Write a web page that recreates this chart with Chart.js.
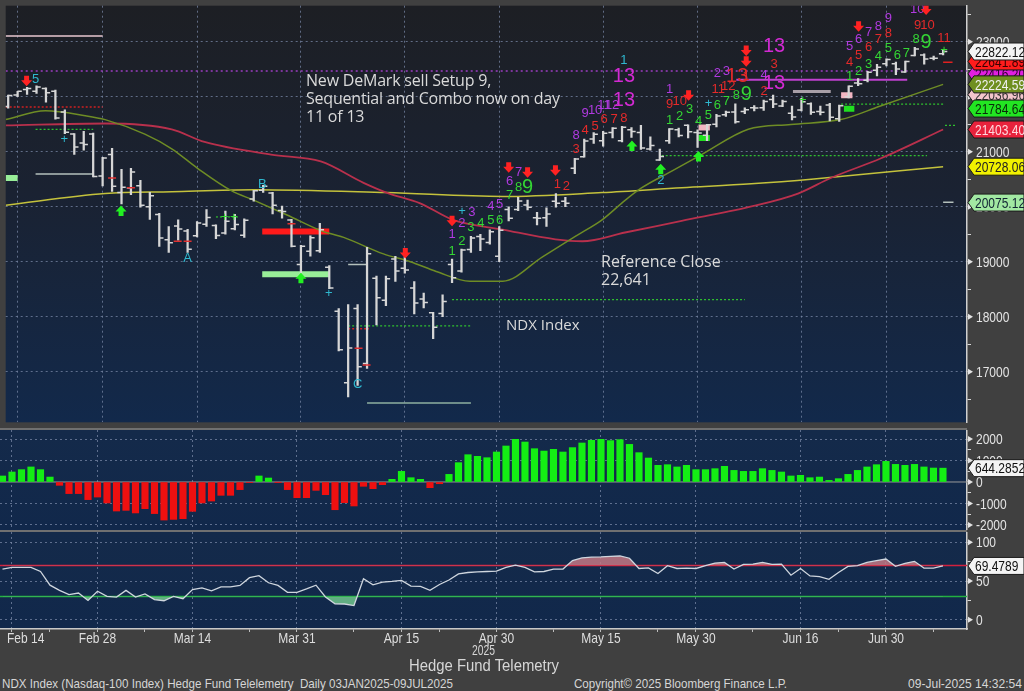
<!DOCTYPE html>
<html><head><meta charset="utf-8">
<script src="https://cdn.jsdelivr.net/npm/chart.js@4.4.1/dist/chart.umd.min.js"></script>
<style>
html,body{margin:0;padding:0;background:#404040;width:1024px;height:691px;overflow:hidden;}
canvas{position:absolute;left:0;}
.sep{position:absolute;left:0;width:967px;height:2px;background:#707070;}
.t{position:absolute;color:#dadada;white-space:nowrap;font-family:'Open Sans','Noto Sans',sans-serif;}
.n{position:absolute;color:#d6d6d6;white-space:nowrap;font-family:'Liberation Sans',sans-serif;transform-origin:0 0;}
</style></head><body>
<canvas id="main" width="1024" height="428" style="top:0"></canvas>
<div class="sep" style="top:428px"></div>
<canvas id="hist" width="1024" height="100" style="top:430px"></canvas>
<div class="sep" style="top:530px"></div>
<canvas id="rsi" width="1024" height="117" style="top:532px"></canvas>

<div class="t" style="left:306px;top:71px;font-size:16px;line-height:18px;letter-spacing:-0.2px">New DeMark sell Setup 9,<br>Sequential and Combo now on day<br>11 of 13</div>
<div class="t" style="left:601px;top:252px;font-size:16px;line-height:18px">Reference Close<br>22,641</div>
<div class="t" style="left:506px;top:315px;font-size:15px;line-height:18px">NDX Index</div>
<div class="n" data-w="23" style="left:472px;top:642px;font-size:14px;line-height:16px">2025</div>
<div class="n" data-w="150" style="left:409px;top:656px;font-size:17px;line-height:20px">Hedge Fund Telemetry</div>
<div class="n" data-w="451" style="left:2px;top:676px;font-size:13.5px;line-height:15px">NDX Index (Nasdaq-100 Index) Hedge Fund Telelemetry&nbsp; Daily 03JAN2025-09JUL2025</div>
<div class="n" data-w="213" style="left:574px;top:676px;font-size:13.5px;line-height:15px">Copyright© 2025 Bloomberg Finance L.P.</div>
<div class="n" data-w="114" style="left:908px;top:676px;font-size:13.5px;line-height:15px">09-Jul-2025 14:32:54</div>

<script>
// ---------------- DATA ----------------
const dates = ['Feb 13','Feb 14','Feb 18','Feb 19','Feb 20','Feb 21','Feb 24','Feb 25','Feb 26','Feb 27','Feb 28',
'Mar 3','Mar 4','Mar 5','Mar 6','Mar 7','Mar 10','Mar 11','Mar 12','Mar 13','Mar 14','Mar 17','Mar 18','Mar 19','Mar 20','Mar 21','Mar 24','Mar 25','Mar 26','Mar 27','Mar 28','Mar 31',
'Apr 1','Apr 2','Apr 3','Apr 4','Apr 7','Apr 8','Apr 9','Apr 10','Apr 11','Apr 14','Apr 15','Apr 16','Apr 17','Apr 21','Apr 22','Apr 23','Apr 24','Apr 25','Apr 28','Apr 29','Apr 30',
'May 1','May 2','May 5','May 6','May 7','May 8','May 9','May 12','May 13','May 14','May 15','May 16','May 19','May 20','May 21','May 22','May 23','May 27','May 28','May 29','May 30',
'Jun 2','Jun 3','Jun 4','Jun 5','Jun 6','Jun 9','Jun 10','Jun 11','Jun 12','Jun 13','Jun 16','Jun 17','Jun 18','Jun 20','Jun 23','Jun 24','Jun 25','Jun 26','Jun 27','Jun 30',
'Jul 1','Jul 2','Jul 3','Jul 7','Jul 8','Jul 9'];

const openP = [21820,22030,22130,22100,22150,22100,21720,21320,21160,21320,
20560,20950,20260,20340,20380,20000,19860,19400,19650,19560,
19470,19680,19660,19520,19600,19480,20140,20300,20250,19930,
19760,18950,19190,19200,18900,18100,16800,18150,17150,18700,
18300,19050,18880,18520,18320,18070,18060,18950,18830,19220,
19460,19350,19100,19950,19950,20030,19800,19800,20100,20100,
20700,20910,21230,21200,21350,21200,21400,21350,21050,20850,
21200,21400,21480,21350,21300,21500,21670,21720,21730,21800,
21800,21950,21830,21700,21760,21870,21730,21850,21600,22000,
22250,22300,22480,22600,22600,22450,22750,22760,22700,22780];
const highP = [22030,22100,22170,22200,22160,22120,21760,21330,21370,21340,
20900,21060,20680,20700,20480,20260,19880,19640,19760,19590,
19730,19950,19670,19920,19860,19780,20300,20390,20260,20010,
19770,19300,19470,19700,18930,18150,18220,18220,19260,18740,
18740,19100,19090,18640,18430,18080,18400,19050,19230,19460,
19500,19580,19640,20000,20170,20120,19900,19980,20240,20170,
20880,21230,21350,21370,21440,21460,21440,21480,21270,21050,
21420,21430,21490,21400,21500,21680,21740,21870,21800,21840,
21940,22030,21940,21830,21970,21890,21830,21880,21850,22200,
22330,22460,22590,22690,22630,22650,22900,22780,22740,22860];
const lowP = [21790,22000,22040,22060,21900,21590,21330,20950,21030,20540,
20380,20280,20050,20220,19990,19770,19280,19170,19390,19170,
19450,19640,19420,19500,19580,19440,20100,20260,19870,19790,
19270,18800,19100,19170,18510,17380,16540,16750,17060,17850,
18200,18640,18790,18050,18160,17600,18000,18620,18810,19170,
19200,19320,19000,19740,19930,19940,19670,19640,19990,20000,
20600,20900,21150,21100,21250,21180,21260,21040,21030,20840,
21150,21270,21250,21080,21200,21450,21640,21520,21690,21740,
21750,21800,21820,21580,21740,21680,21670,21560,21550,21980,
22200,22270,22380,22560,22400,22440,22740,22590,22670,22760];
const closeP = [22020,22100,22150,22176,22070,21614,21352,21088,21132,20551,
20884,20371,20354,20629,20026,20201,19431,19345,19594,19225,
19704,19804,19477,19736,19678,19754,20288,20370,20025,19915,
19281,19279,19436,19581,18522,17398,17431,17090,19145,18343,
18690,18831,18848,18251,18258,17808,18277,18710,19213,19432,
19412,19546,19571,19791,20103,19989,19792,19867,20064,20061,
20868,21196,21319,21335,21427,21447,21367,21067,21112,20915,
21413,21296,21364,21340,21492,21651,21719,21547,21762,21797,
21914,21868,21914,21631,21907,21719,21719,21626,21837,22191,
22238,22447,22534,22679,22504,22642,22867,22686,22700,22822.12];

// moving averages: [bar index, value]
const maShortPts = [[-1.26,21584],[2.95,21743],[7.16,21655],[9.26,21584],[13.47,21319],[16.32,21053],[19.05,20699],[22.63,20292],[25.05,20115],[28.53,19850],[32.1,19566],[34.53,19442],[38.74,19142],[41.58,19000],[44.32,18823],[47.89,18646],[51.37,18646],[55.58,19088],[59.05,19460],[61.89,19761],[64.32,20115],[66.1,20345],[69.26,20646],[72.42,20947],[77.37,21407],[81.89,21496],[87.16,21584],[91.37,21832],[98,22224.59]];
const maMidPts = [[-1.26,21478],[9.26,21513],[16.32,21407],[19.79,21177],[26.84,20947],[32.1,20823],[36.63,20434],[39.05,20257],[42.63,20062],[46.1,19761],[51.37,19584],[56.95,19407],[59.79,19372],[64.32,19531],[70.32,19743],[77.37,19991],[82.63,20239],[86.1,20522],[91.37,20876],[98,21403.40]];
const maLongPts = [[-1.26,20027],[9.26,20239],[16.32,20274],[25.05,20310],[39.05,20257],[51.37,20186],[61.89,20257],[70.32,20345],[77.68,20416],[84.32,20504],[98,20728.06]];

// oscillator histogram and RSI, one value per bar
const histVals = [280,465,575,700,575,230,-155,-540,-540,-820,
-700,-975,-1350,-1320,-1440,-1240,-1470,-1770,-1740,-1705,
-1365,-975,-885,-620,-620,-355,-30,280,185,-10,
-355,-730,-730,-390,-590,-1290,-960,-1115,-200,-310,
-125,125,495,200,125,-265,-80,355,900,1270,
1195,1130,1395,1675,1985,1860,1550,1440,1520,1395,
1600,1815,1940,1985,1925,1970,1750,1365,1115,775,
805,700,775,575,575,620,730,540,495,495,
620,540,465,280,310,200,230,75,155,355,
540,700,805,960,820,775,820,700,650,644.2852];
const rsiVals = [65.4,67.5,67.7,67.5,62.3,44.7,38,32.5,34.6,25,
36.8,30.3,29.4,38,29.4,33.3,26,24.6,30.3,27.2,
39,41.2,37.3,42.5,42.5,44.3,54.4,57,47.8,44.3,
35.5,35.5,39.9,44.7,29.4,20.6,20.4,18.4,53,45.2,
48.7,49.6,50.9,43.4,43.2,38,45.6,51.3,59.2,61,
61.8,62.3,62.7,67.5,70.6,67.5,61.8,62.3,65.4,65.4,
76.3,79.8,80.7,81.1,81.9,82.3,79.4,66.2,66.9,59.7,
69.8,66.2,66.7,66.2,69.8,73.2,74,65.4,71.5,71.9,
74,71.5,71.9,57.5,66.2,56.6,55.7,52.2,61,68.9,
69.8,74,76.3,78.4,68.9,72.8,75.4,66.7,66.7,69.4789];

// level lines: [from bar, to bar, value]
const levelLines = [[-1.263,9,23106],[-1.263,9,21814],[1.9,8,21407],[1.9,8,20593],[-1.263,0,20522],
[25.9,33,19549],[25.9,33.05,18770],[35,37,18947],[35,37.2,17779],[35,48,17832],[37,48,16433],
[46,77,18310],[-1.263,100.53,22469],[68.2,96.3,20929],[76.1,94.2,22310],[82.1,86.1,22097],
[87.2,98,21867],[98.2,99.3,21478],[98,99.1,20080],[98,99,22628],[87.2,88.4,22027],[87.5,88.6,21780],
[72.1,73.3,21442],[72.1,73.3,21248],[21,23.5,19814]];
const levelKinds = ['pink','redDot','greenDot','gray','lgThick','redThick','lgThick','gray','redDot','greenDot','grayGreen',
'greenDot','purpleDot','greenDot','purple','grayThick','greenDot','greenDot','gray','red','pinkBlock','greenBlock',
'pinkBlock','greenBlock','greenDot'];

// DeMark counts: [bar, value, text, kind]
const countMarks = [
[1.9,22310,'5','c'],[4.95,21230,'+','c'],[18,19053,'A','c'],[25.9,20398,'B','c'],[32.95,18416,'+','c'],[36,16770,'C','c'],
[47.05,19920,'+','c'],[48.1,19903,'3','p'],[47.05,19690,'2','p'],[46,19495,'1','p'],
[46,19195,'1','g'],[47.05,19372,'2','g'],[48,19619,'3','g'],[49.05,19690,'4','g'],[50.1,19743,'5','g'],[51.05,19743,'6','g'],
[50.1,20009,'4','p'],[51.05,20044,'5','p'],[52.1,20451,'6','p'],[53.05,20628,'7','p'],
[52.1,20204,'7','g'],[53.05,20345,'8','g'],[54,20345,'9','G'],
[57.15,20398,'1','r'],[58.1,20363,'2','r'],[59.15,21035,'3','r'],[59.15,21301,'8','p'],
[60.1,21389,'4','r'],[61.15,21460,'5','r'],[60.1,21690,'9','p'],[61.15,21743,'10','p'],[62.1,21850,'11','p'],[62.95,21850,'12','p'],
[62.1,21584,'6','r'],[63.15,21584,'7','r'],[64.2,21602,'8','r'],
[64.2,22664,'1','c'],[64.2,22363,'13','M'],[64.2,21938,'13','M'],
[68.1,20469,'2','c'],[69.05,22133,'1','p'],[69.05,21867,'9','r'],[70.1,21920,'10','r'],
[69.05,21566,'1','g'],[70.1,21637,'2','g'],[71.15,21761,'3','g'],[72.1,21549,'4','g'],
[73.15,21655,'5','g'],[73.15,21885,'+','c'],[74.1,21850,'6','g'],[75.05,21920,'7','g'],[76.1,22027,'8','g'],[77.15,22044,'9','G'],
[74.1,22416,'2','p'],[75.05,22469,'3','p'],[74.2,22133,'11','r'],[75.25,22186,'12','r'],[76.2,22363,'13','R'],[77.15,22363,'1','r'],
[80.1,22912,'13','M'],[80.1,22593,'3','r'],[79.05,22381,'4','p'],[80.1,22239,'13','M'],[79.05,22097,'2','r'],
[83.15,21938,'+','g'],
[88.1,22912,'5','p'],[89.05,23036,'6','p'],[90.1,23177,'7','p'],[91.15,23283,'8','p'],[92.2,23425,'9','p'],[95.25,23584,'10','p'],
[88.1,22628,'4','r'],[89.05,22752,'5','r'],[90.1,22894,'6','r'],[91.15,23036,'7','r'],[92.2,23142,'8','r'],[95.3,23301,'9','r'],[96.35,23301,'10','r'],[98.1,23053,'11','r'],
[88.1,22363,'1','g'],[89.05,22451,'2','g'],[90.1,22593,'3','g'],[91.15,22735,'4','g'],[92.2,22876,'5','g'],[93.15,22752,'6','g'],[94.1,22788,'7','g'],[95.15,23036,'8','g'],[96.2,22982,'9','G'],
[98.1,22841,'+','g'],[21.9,19814,'+','g'],[22.9,19814,'+','g']];
// arrows: [bar, value, direction]
const arrowMarks = [[0.95,22292,'down'],[10.95,19920,'up'],[30,18699,'up'],[41.05,19159,'down'],[46,19743,'down'],
[52,20717,'down'],[54,20628,'down'],[56.95,20664,'down'],[65.05,21106,'up'],[68.1,20681,'up'],[71.05,22027,'down'],
[72.1,20911,'up'],[77.15,22841,'down'],[77.15,22646,'down'],[89.05,23283,'down'],[96.2,23584,'down']];
// small red dashes: [bar, value]
const redTicks = [[16.95,19372],[18,19372],[10,20522],[12,20345],[29,19690],[36.1,17425],[36.95,17124]];

// axis tags: [value, text, kind]
const mainTags = [[22416,'22416.20','mag'],[22036.96,'22036.96','pink'],[22641.89,'22641.89','red'],[21403.40,'21403.40','crim'],
[20728.06,'20728.06','yel'],[20075.12,'20075.12','lgreen'],[22224.59,'22224.59','olive'],[21784.64,'21784.64','green'],[22822.12,'22822.12','white']];
const histTag = [644.2852,'644.2852'];
const rsiTag = [69.4789,'69.4789'];

const majorTicks = [0,9,19,30,41,51,62,72,83,92];
const minorTicks = [4,14,25,36,45,57,68,78,87,97];
const mainYTicks = [16500,17000,17500,18000,18500,19000,19500,20000,20500,21000,21500,22000,22500,23000,23500];
const mainYLabels = [17000,18000,19000,20000,21000,22000,23000];
const histYTicks = [-2000,-1500,-1000,-500,0,500,1000,1500,2000];
const histYLabels = [-2000,-1000,0,1000,2000];
const rsiYTicks = [0,25,50,75,100];
const rsiYLabels = [0,50,100];

// ---------------- STYLE ----------------
const SANS = "'Liberation Sans',sans-serif";
const SQUEEZE = 0.8;
const GRID = 'rgba(120,135,165,0.75)';
const XMIN = -1.263, XMAX = 100.53;
const idx = dates.map((d,k)=>k-1);

const levelStyle = {
 pink:{c:'#e8c8d0',w:1.5,d:[]}, redDot:{c:'#d02020',w:1.5,d:[2,2]}, greenDot:{c:'#2fc02f',w:1.2,d:[2,2]},
 gray:{c:'#b4c0bc',w:1.5,d:[]}, lgThick:{c:'#98ee98',w:6,d:[]}, redThick:{c:'#ff1a1a',w:6,d:[]},
 grayGreen:{c:'#8fb0a0',w:1.5,d:[]}, purpleDot:{c:'#9a3cc0',w:1.5,d:[2,3]}, purple:{c:'#c040d0',w:2,d:[]},
 grayThick:{c:'#a8a0a8',w:3,d:[]}, red:{c:'#e02020',w:1.5,d:[]}, pinkBlock:{c:'#f2b6c2',w:6,d:[]}, greenBlock:{c:'#20e020',w:6,d:[]}
};
const markStyle = {p:{c:'#b03ae0',s:13}, r:{c:'#e42a2a',s:13}, g:{c:'#34d634',s:13}, c:{c:'#2fb8cf',s:13},
 M:{c:'#d22ad2',s:20}, R:{c:'#e42a2a',s:20}, G:{c:'#34d634',s:20}};
const tagStyle = {mag:['#e020e0','#300030'], pink:['#f4c6cc','#333'], red:['#ff1c1c','#3a0000'], crim:['#e8223c','#ffd8de'],
 yel:['#f2f200','#222'], lgreen:['#a2e8a2','#123'], olive:['#6f8f1f','#f0f0f0'], green:['#22e622','#0a2a0a'], white:['#f4f4f4','#111']};

function squeezedText(ctx, text, x, y, align){
  ctx.save(); ctx.translate(x, y); ctx.scale(SQUEEZE, 1); ctx.textAlign = align; ctx.fillText(text, 0, 0); ctx.restore();
}
function drawTag(ctx, yc, bg, fg, text){
  const x0 = 967, w = 57, h = 8.5;
  ctx.beginPath(); ctx.moveTo(x0+1,yc); ctx.lineTo(x0+7,yc-h); ctx.lineTo(x0+w,yc-h); ctx.lineTo(x0+w,yc+h); ctx.lineTo(x0+7,yc+h); ctx.closePath();
  ctx.fillStyle = bg; ctx.fill(); ctx.strokeStyle = '#1a1a1a'; ctx.lineWidth = 1; ctx.stroke();
  ctx.fillStyle = fg; ctx.font = '15px ' + SANS; ctx.textBaseline = 'middle';
  squeezedText(ctx, text, x0+8, yc+1, 'left');
}
function bgPlugin(stops){
  return {id:'bg', beforeDraw(chart){
    const {ctx, chartArea:a} = chart; const g = ctx.createLinearGradient(0,a.top,0,a.bottom);
    stops.forEach(s=>g.addColorStop(s[0],s[1]));
    ctx.save(); ctx.fillStyle = g; ctx.fillRect(a.left,a.top,a.right-a.left,a.bottom-a.top); ctx.restore();
  }};
}
function axisLabelPlugin(yLabels, withX){
  return {id:'axlab', afterDraw(chart){
    const {ctx, scales:{x,y}, chartArea:a} = chart;
    ctx.save(); ctx.fillStyle = '#e4e4e4'; ctx.font = '15px ' + SANS; ctx.textBaseline = 'middle';
    yLabels.forEach(v=>{
      const py = y.getPixelForValue(v);
      ctx.beginPath(); ctx.moveTo(a.right+1, py-3); ctx.lineTo(a.right+6, py); ctx.lineTo(a.right+1, py+3); ctx.closePath(); ctx.fill();
      squeezedText(ctx, String(v), a.right+9, py+1, 'left');
    });
    if (withX) {
      ctx.fillStyle = '#dedede'; ctx.textBaseline = 'top';
      majorTicks.forEach(i=>{
        const txt = dates[i+1]; const w = ctx.measureText(txt).width * SQUEEZE;
        const cx = Math.max(x.getPixelForValue(i), 7 + w/2);
        squeezedText(ctx, txt, cx, a.bottom + 2, 'center');
      });
    }
    ctx.restore();
  }};
}
function xScale(showTicks){
  return {type:'linear', min:XMIN, max:XMAX, offset:false,
    afterBuildTicks: s => { s.ticks = (showTicks ? majorTicks.concat(minorTicks).sort((a,b)=>a-b) : majorTicks).map(v=>({value:v})); },
    afterFit: s => { s.height = showTicks ? 20 : 0; s.paddingLeft = 0; s.paddingRight = 0; },
    ticks:{display:false},
    grid:{offset:false, drawTicks:showTicks, tickLength:3, tickColor:'#bdbdbd', lineWidth:1,
      color: c => (c.tick && majorTicks.includes(c.tick.value)) ? GRID : 'rgba(0,0,0,0)'},
    border:{display:showTicks, color:'#c8c8c8', width:1.5, dash:[2,3]}};
}
function yScale(min, max, tickVals, isGrid){
  return {type:'linear', position:'right', min, max,
    afterBuildTicks: s => { s.ticks = tickVals.map(v=>({value:v})); },
    afterFit: s => { s.width = 57; s.paddingTop = 0; s.paddingBottom = 0; },
    ticks:{display:false},
    grid:{drawTicks:true, tickLength:4, tickColor:'#d8d8d8', lineWidth:1,
      color: c => (c.tick && isGrid(c.tick.value)) ? GRID : 'rgba(0,0,0,0)'},
    border:{color:'#d0d0d0', width:1.5, dash:[2,3]}};
}
const common = {responsive:false, animation:false, events:[], layout:{padding:0},
  plugins:{legend:{display:false}, tooltip:{enabled:false}}};

// ---------------- MAIN PRICE CHART ----------------
const priceDatasets = [
  {type:'bar', data: idx.map((i,k)=>({x:i, y:[lowP[k], highP[k]]})), backgroundColor:'#d6d6d6', borderWidth:0, barThickness:1.6, grouped:false},
  {type:'scatter', data: idx.map((i,k)=>({x:i, y:openP[k]})), pointStyle:'dash', pointRotation:180, pointRadius:4.2, pointBorderWidth:1.5, pointBorderColor:'#d6d6d6', pointBackgroundColor:'#d6d6d6'},
  {type:'scatter', data: idx.map((i,k)=>({x:i, y:closeP[k]})), pointStyle:'dash', pointRotation:0, pointRadius:4.2, pointBorderWidth:1.5, pointBorderColor:'#d6d6d6', pointBackgroundColor:'#d6d6d6'},
  {type:'line', data: maShortPts.map(p=>({x:p[0], y:p[1]})), borderColor:'#6e8c25', borderWidth:1.5, pointRadius:0, cubicInterpolationMode:'monotone'},
  {type:'line', data: maMidPts.map(p=>({x:p[0], y:p[1]})), borderColor:'#b8304c', borderWidth:1.8, pointRadius:0, cubicInterpolationMode:'monotone'},
  {type:'line', data: maLongPts.map(p=>({x:p[0], y:p[1]})), borderColor:'#c4c23c', borderWidth:1.5, pointRadius:0, cubicInterpolationMode:'monotone'}
];
levelLines.forEach((l,k)=>{
  const st = levelStyle[levelKinds[k]];
  priceDatasets.push({type:'line', data:[{x:l[0],y:l[2]},{x:l[1],y:l[2]}], borderColor:st.c, borderWidth:st.w, borderDash:st.d, pointRadius:0, borderCapStyle:'butt'});
});

const marksPlugin = {id:'marks', afterDatasetsDraw(chart){
  const {ctx, scales:{x,y}, chartArea:a} = chart;
  ctx.save(); ctx.beginPath(); ctx.rect(a.left,a.top,a.right-a.left,a.bottom-a.top); ctx.clip();
  redTicks.forEach(([i,v])=>{ const px=x.getPixelForValue(i), py=y.getPixelForValue(v);
    ctx.strokeStyle='#e03030'; ctx.lineWidth=1.5; ctx.beginPath(); ctx.moveTo(px-4,py); ctx.lineTo(px+4,py); ctx.stroke(); });
  ctx.textAlign='center'; ctx.textBaseline='middle';
  countMarks.forEach(([i,v,t,k])=>{ const st=markStyle[k]; ctx.fillStyle=st.c; ctx.font=st.s+'px '+SANS;
    ctx.fillText(t, x.getPixelForValue(i), y.getPixelForValue(v)); });
  arrowMarks.forEach(([i,v,d])=>{ const px=x.getPixelForValue(i), py=y.getPixelForValue(v); const s = d==='down'?1:-1;
    ctx.fillStyle = d==='down' ? '#ff2222' : '#22f022';
    ctx.beginPath(); ctx.moveTo(px-2.5,py-5*s); ctx.lineTo(px+2.5,py-5*s); ctx.lineTo(px+2.5,py-0.5*s); ctx.lineTo(px+5.5,py-0.5*s);
    ctx.lineTo(px,py+5.5*s); ctx.lineTo(px-5.5,py-0.5*s); ctx.lineTo(px-2.5,py-0.5*s); ctx.closePath(); ctx.fill(); });
  ctx.restore();
}};
const mainTagPlugin = {id:'tags', afterDraw(chart){
  const {ctx, scales:{y}} = chart; ctx.save();
  mainTags.forEach(([v,t,k])=>drawTag(ctx, y.getPixelForValue(v), tagStyle[k][0], tagStyle[k][1], t));
  ctx.restore();
}};

new Chart(document.getElementById('main'), {
  type:'bar', data:{datasets:priceDatasets},
  options:Object.assign({}, common, {scales:{
    x: xScale(false),
    y: yScale(16080, 23655, mainYTicks, v => v % 1000 === 0)
  }}),
  plugins:[bgPlugin([[0,'#1d1f24'],[0.45,'#1a2232'],[1,'#12294b']]), marksPlugin, axisLabelPlugin(mainYLabels, false), mainTagPlugin]
});

// ---------------- HISTOGRAM ----------------
const histTagPlugin = {id:'htag', afterDraw(chart){ const {ctx, scales:{y}} = chart; ctx.save();
  drawTag(ctx, y.getPixelForValue(histTag[0]), '#f4f4f4', '#111', histTag[1]); ctx.restore(); }};
const zeroLine = {id:'zero', beforeDatasetsDraw(chart){ const {ctx, scales:{y}, chartArea:a} = chart; const py = y.getPixelForValue(0);
  ctx.save(); ctx.strokeStyle='#9a9a9a'; ctx.lineWidth=1; ctx.beginPath(); ctx.moveTo(a.left,py); ctx.lineTo(a.right,py); ctx.stroke(); ctx.restore(); }};
new Chart(document.getElementById('hist'), {
  type:'bar',
  data:{datasets:[{data: idx.map((i,k)=>({x:i, y:histVals[k]})), backgroundColor: histVals.map(v => v >= 0 ? '#14ee14' : '#ee1010'), borderWidth:0, barThickness:6.5, grouped:false}]},
  options:Object.assign({}, common, {scales:{
    x: xScale(false),
    y: yScale(-2233, 2419, histYTicks, v => v % 1000 === 0 && v !== 0)
  }}),
  plugins:[bgPlugin([[0,'#142a4a'],[1,'#11284b']]), zeroLine, axisLabelPlugin(histYLabels, false), histTagPlugin]
});

// ---------------- RSI ----------------
const rsiTagPlugin = {id:'rtag', afterDraw(chart){ const {ctx, scales:{y}} = chart; ctx.save();
  drawTag(ctx, y.getPixelForValue(rsiTag[0]), '#f4f4f4', '#111', rsiTag[1]); ctx.restore(); }};
const rsiPts = idx.map((i,k)=>({x:i, y:rsiVals[k]}));
new Chart(document.getElementById('rsi'), {
  type:'line',
  data:{datasets:[
    {data: rsiPts, borderColor:'#cfd6de', borderWidth:1.3, pointRadius:0, fill:{target:{value:70}, above:'rgba(196,120,132,0.85)', below:'rgba(0,0,0,0)'}},
    {data: rsiPts, borderWidth:0, borderColor:'rgba(0,0,0,0)', pointRadius:0, fill:{target:{value:30}, above:'rgba(0,0,0,0)', below:'rgba(112,196,140,0.85)'}},
    {data:[{x:XMIN,y:70},{x:XMAX,y:70}], borderColor:'#d3203e', borderWidth:1.5, pointRadius:0},
    {data:[{x:XMIN,y:30},{x:XMAX,y:30}], borderColor:'#22b040', borderWidth:1.5, pointRadius:0}
  ]},
  options:Object.assign({}, common, {scales:{
    x: xScale(true),
    y: yScale(-11.8, 113.2, rsiYTicks, v => v % 50 === 0)
  }}),
  plugins:[bgPlugin([[0,'#142a4a'],[1,'#11284b']]), axisLabelPlugin(rsiYLabels, true), rsiTagPlugin]
});

// fit the condensed footer texts to their measured widths
document.querySelectorAll('.n').forEach(el=>{
  const target = parseFloat(el.dataset.w); const w = el.getBoundingClientRect().width;
  if (w > 0) el.style.transform = 'scaleX(' + (target / w).toFixed(3) + ')';
});
</script>
</body></html>
